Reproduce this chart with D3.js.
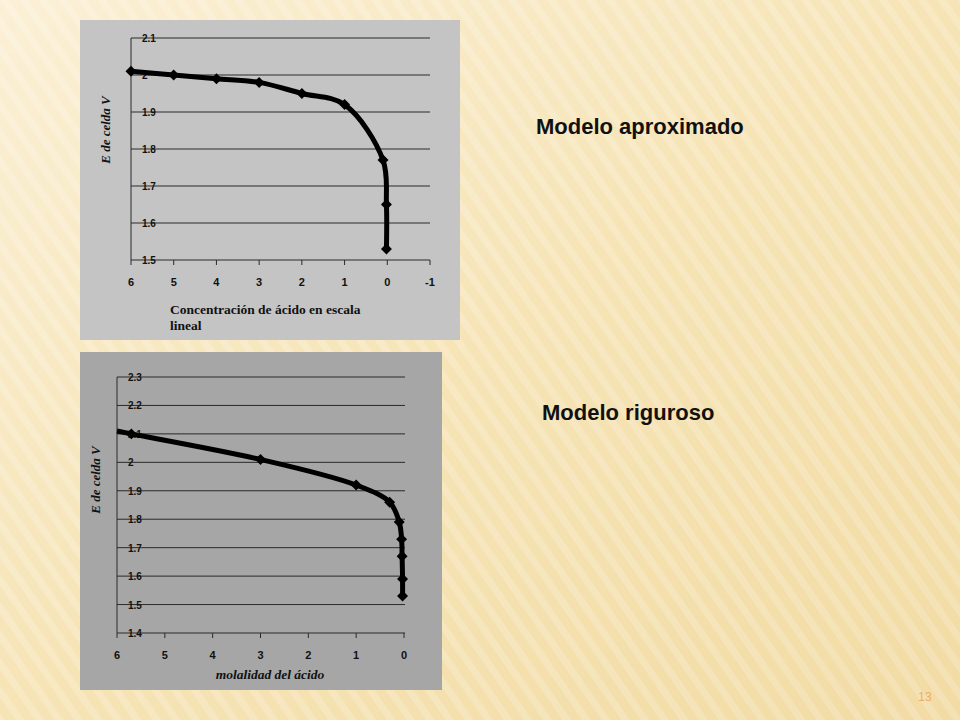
<!DOCTYPE html>
<html><head><meta charset="utf-8">
<script src="https://cdn.jsdelivr.net/npm/d3@7"></script>
<style>body{margin:0;}svg{display:block;}</style>
</head><body>
<svg id="slide" width="960" height="720"></svg>
<script>
// Modelo aproximado
const aproxX = [6, 5, 4, 3, 2, 1, 0.1, 0.02, 0.02];
const aproxE = [2.01, 2.0, 1.99, 1.98, 1.95, 1.92, 1.77, 1.65, 1.53];
const aproxXTicks = [6, 5, 4, 3, 2, 1, 0, -1];
const aproxYTicks = [1.5, 1.6, 1.7, 1.8, 1.9, 2, 2.1];

// Modelo riguroso
const rigLineX = [6, 5.7, 3, 1, 0.3, 0.1, 0.05, 0.04, 0.03, 0.03];
const rigLineE = [2.11, 2.1, 2.01, 1.92, 1.86, 1.79, 1.73, 1.67, 1.59, 1.53];
const rigX = [5.7, 3, 1, 0.3, 0.1, 0.05, 0.04, 0.03, 0.03];
const rigE = [2.1, 2.01, 1.92, 1.86, 1.79, 1.73, 1.67, 1.59, 1.53];
const rigXTicks = [6, 5, 4, 3, 2, 1, 0];
const rigYTicks = [1.4, 1.5, 1.6, 1.7, 1.8, 1.9, 2, 2.1, 2.2, 2.3];

const svg = d3.select("#slide");
const defs = svg.append("defs");
const bg = defs.append("linearGradient").attr("id", "bg").attr("x1", 0).attr("y1", 0).attr("x2", 1).attr("y2", 1);
bg.append("stop").attr("offset", "0%").attr("stop-color", "#fbf0d6");
bg.append("stop").attr("offset", "50%").attr("stop-color", "#f6e4b6");
bg.append("stop").attr("offset", "100%").attr("stop-color", "#f2dba4");
svg.append("rect").attr("width", 960).attr("height", 720).attr("fill", "url(#bg)");
const pat = defs.append("pattern").attr("id", "stripes").attr("width", 16).attr("height", 16)
  .attr("patternUnits", "userSpaceOnUse").attr("patternTransform", "rotate(-35)");
pat.append("rect").attr("width", 7).attr("height", 16).attr("fill", "#ffffff").attr("opacity", 0.18);
svg.append("rect").attr("width", 960).attr("height", 720).attr("fill", "url(#stripes)");

function chart(o) {
  const g = svg.append("g");
  g.append("rect").attr("x", o.box[0]).attr("y", o.box[1]).attr("width", o.box[2]).attr("height", o.box[3]).attr("fill", o.bg);
  const x = d3.scaleLinear().domain(o.xDom).range(o.xRange);
  const y = d3.scaleLinear().domain(o.yDom).range(o.yRange);
  g.selectAll(".grid").data(o.yTicks).join("line")
    .attr("x1", o.xRange[0]).attr("x2", o.gridEnd)
    .attr("y1", d => y(d)).attr("y2", d => y(d))
    .attr("stroke", "#2a2a2a").attr("stroke-width", 1);
  g.append("line").attr("x1", o.xRange[0]).attr("x2", o.xRange[0])
    .attr("y1", o.yRange[0]).attr("y2", o.yRange[1]).attr("stroke", "#2a2a2a");
  g.selectAll(".xt").data(o.xTicks).join("line")
    .attr("x1", d => x(d)).attr("x2", d => x(d))
    .attr("y1", o.yRange[0]).attr("y2", o.yRange[0] + 5).attr("stroke", "#2a2a2a");
  g.selectAll(".yl").data(o.yTicks).join("text")
    .attr("x", o.xRange[0] + 11).attr("y", d => y(d) + 4)
    .attr("font-family", "Liberation Sans, Arial").attr("font-size", 10).attr("font-weight", "bold").attr("fill", "#111")
    .text(d => d3.format("")(d));
  g.selectAll(".xl").data(o.xTicks).join("text")
    .attr("x", d => x(d)).attr("y", o.yRange[0] + 26).attr("text-anchor", "middle")
    .attr("font-family", "Liberation Sans, Arial").attr("font-size", 11).attr("font-weight", "bold").attr("fill", "#111")
    .text(d => d);
  const line = d3.line().x(d => x(d[0])).y(d => y(d[1])).curve(d3.curveCatmullRom.alpha(0.5));
  g.append("path").datum(d3.zip(o.lineX, o.lineE)).attr("d", line)
    .attr("fill", "none").attr("stroke", "#000").attr("stroke-width", 5).attr("stroke-linejoin", "round");
  g.selectAll(".pt").data(d3.zip(o.ptX, o.ptE)).join("path")
    .attr("d", d3.symbol(d3.symbolSquare, 60))
    .attr("transform", d => `translate(${x(d[0])},${y(d[1])}) rotate(45)`).attr("fill", "#000");
  g.append("text").attr("transform", `translate(${o.yLabel[0]},${o.yLabel[1]}) rotate(-90)`)
    .attr("text-anchor", "middle").attr("font-family", "Liberation Serif, Times New Roman")
    .attr("font-size", 13).attr("font-weight", "bold").attr("font-style", "italic").attr("fill", "#111")
    .text("E de celda V");
  const xl = g.append("text").attr("font-family", "Liberation Serif, Times New Roman")
    .attr("font-size", 13.5).attr("font-weight", "bold").attr("fill", "#111").attr("font-style", o.xItalic ? "italic" : "normal");
  o.xLabel.forEach((t, i) => xl.append("tspan").attr("x", o.xLabelPos[0]).attr("y", o.xLabelPos[1] + i * 16)
    .attr("text-anchor", o.xAnchor).text(t));
}

chart({
  box: [80, 20, 380, 320], bg: "#c4c4c4",
  xDom: [6, -1], xRange: [131, 430], yDom: [1.5, 2.1], yRange: [260, 38], gridEnd: 430,
  xTicks: aproxXTicks, yTicks: aproxYTicks,
  lineX: aproxX, lineE: aproxE, ptX: aproxX, ptE: aproxE,
  yLabel: [110, 130], xLabel: ["Concentración de ácido en escala", "lineal"],
  xLabelPos: [170, 314], xAnchor: "start", xItalic: false
});

chart({
  box: [80, 352, 362, 338], bg: "#a6a6a6",
  xDom: [6, 0], xRange: [117, 404], yDom: [1.4, 2.3], yRange: [633, 377], gridEnd: 405,
  xTicks: rigXTicks, yTicks: rigYTicks,
  lineX: rigLineX, lineE: rigLineE, ptX: rigX, ptE: rigE,
  yLabel: [100, 480], xLabel: ["molalidad del ácido"],
  xLabelPos: [270, 679], xAnchor: "middle", xItalic: true
});

svg.append("text").attr("x", 536).attr("y", 134).attr("font-family", "Liberation Sans, Arial")
  .attr("font-size", 22).attr("font-weight", "bold").attr("fill", "#111").text("Modelo aproximado");
svg.append("text").attr("x", 542).attr("y", 420).attr("font-family", "Liberation Sans, Arial")
  .attr("font-size", 22).attr("font-weight", "bold").attr("fill", "#111").text("Modelo riguroso");
svg.append("text").attr("x", 925).attr("y", 701).attr("text-anchor", "middle").attr("font-family", "Liberation Sans, Arial")
  .attr("font-size", 12).attr("fill", "#e8b060").text("13");
</script>
</body></html>
